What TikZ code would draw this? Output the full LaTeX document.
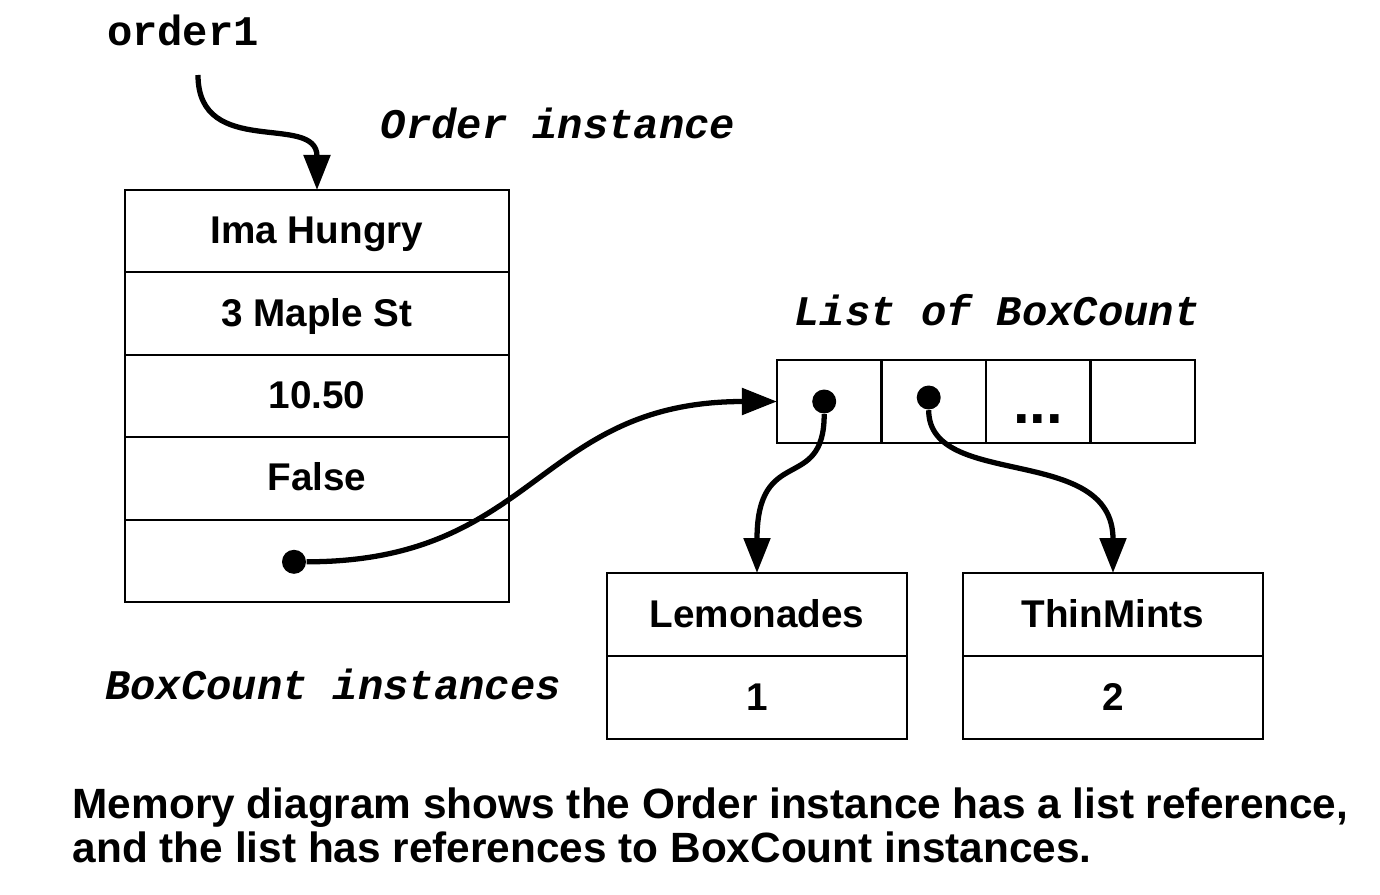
\documentclass[tikz,border=0pt]{standalone}
\usepackage{fontspec}
\setmainfont{Liberation Sans}
\setmonofont{Liberation Mono}
\usetikzlibrary{positioning,arrows.meta}

\tikzset{
  field/.style={draw, line width=0.6pt, minimum width=3.84cm, minimum height=0.824cm,
    inner sep=0pt, outer sep=0pt, text height=0.716em, text depth=0pt,
    font=\fontsize{11}{13}\selectfont\bfseries},
  slot/.style={draw, line width=0.6pt, minimum width=1.045cm, minimum height=0.83cm,
    inner sep=0pt, outer sep=0pt},
  count/.style={field, minimum width=3.0cm, minimum height=0.83cm},
  dot/.style={circle, fill, inner sep=0pt, minimum size=0.24cm},
  title/.style={font=\fontsize{12}{14}\selectfont\ttfamily\bfseries\itshape},
  ref/.style={line width=1.5pt, -{Triangle[length=0.35cm,width=0.26cm]}}
}

\begin{document}
\begin{tikzpicture}
  \useasboundingbox (0,0) rectangle (13.8,8.94);

  % Variable name
  \node[title, font=\fontsize{12}{14}\selectfont\ttfamily\bfseries] (var) at (1.83,8.64) {order1};
  \coordinate (varend) at (1.98,8.19);

  % Order instance
  \node[title] (ordlbl) at (5.58,7.71) {Order instance};
  \node[field] (name) at (3.17,6.628) {Ima Hungry};
  \node[field, below=0pt of name] (addr) {3 Maple St};
  \node[field, below=0pt of addr] (cost) {10.50};
  \node[field, below=0pt of cost] (paid) {False};
  \node[field, below=0pt of paid] (boxes) {};
  \node[dot] (bdot) at ([xshift=-0.23cm, yshift=-0.01cm]boxes.center) {};

  % List of BoxCount
  \node[title] (lstlbl) at (9.97,5.84) {List of BoxCount};
  \node[slot] (c1) at (8.292,4.925) {};
  \node[slot, right=0pt of c1] (c2) {};
  \node[slot, right=0pt of c2, text height=0.44cm, text depth=0pt,
    font=\fontsize{17}{18}\selectfont\bfseries] (c3) {...};
  \node[slot, right=0pt of c3] (c4) {};
  \node[dot] (d1) at ([xshift=-0.05cm]c1.center) {};
  \node[dot] (d2) at ([xshift=-0.05cm, yshift=0.04cm]c2.center) {};

  % BoxCount instances
  \node[title] (bclbl) at (3.33,2.1) {BoxCount instances};
  \node[count] (lem) at (7.57,2.795) {Lemonades};
  \node[count, below=0pt of lem] (lemn) {1};
  \node[count] (thin) at (11.13,2.795) {ThinMints};
  \node[count, below=0pt of thin] (thinn) {2};

  % References
  \draw[ref] (varend) .. controls +(0,-0.85) and +(0,0.78) .. (name.north);
  \draw[ref] (bdot.east) .. controls +(2.3,0) and +(-2.4,0) .. (c1.west);
  \draw[ref] (d1.south) .. controls +(0,-0.8) and +(0,1.3) .. (lem.north);
  \draw[ref] (d2.south) .. controls +(0,-0.8) and +(0,1.3) .. (thin.north);

  % Caption
  \node[anchor=base west, align=left, inner sep=0pt,
    font=\fontsize{12.05}{12.4}\selectfont\bfseries] (cap) at (0.72,0.32)
    {Memory diagram shows the Order instance has a list reference,\\
     and the list has references to BoxCount instances.};
\end{tikzpicture}
\end{document}
